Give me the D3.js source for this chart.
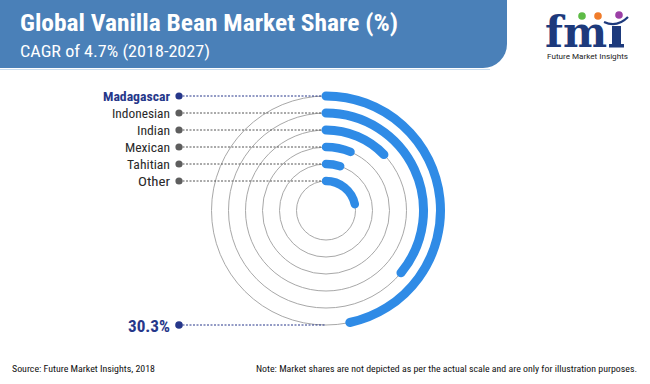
<!DOCTYPE html>
<html><head><meta charset="utf-8">
<script src="https://cdn.jsdelivr.net/npm/d3@7"></script>
<style>body{margin:0;background:#fff}svg{display:block}</style>
</head><body><svg id="c" width="650" height="384"></svg>
<script>
const categories = ["Madagascar","Indonesian","Indian","Mexican","Tahitian","Other"];
// estimated illustrative shares (only Madagascar labelled: 30.3%)
const shares = [30.3, 23.4, 8.3, 4.1, 3.2, 14.0];
const highlightLabel = "30.3%";

const svg = d3.select("#c");
const cx = 326, cy = 210.5;
const navy = "#26378a", blue = "#2f8be6", grey = "#5e5e5e";
const cond = "'Roboto Condensed','Liberation Sans Narrow',Roboto,sans-serif";

// header
svg.append("path").attr("fill","#4a80b8")
  .attr("d","M0,0H507V44A24,24 0 0 1 483,68H0Z");
svg.append("line").attr("x1",0).attr("x2",490).attr("y1",69.5).attr("y2",69.5)
  .attr("stroke","#c9dcee").attr("stroke-width",1);
svg.append("text").attr("x",20).attr("y",31).attr("fill","#fff")
  .attr("font-family",cond).attr("font-weight","bold").attr("font-size",23)
  .attr("textLength",378).attr("lengthAdjust","spacingAndGlyphs")
  .text("Global Vanilla Bean Market Share (%)");
svg.append("text").attr("x",20).attr("y",57).attr("fill","#fff")
  .attr("font-family",cond).attr("font-size",16.5)
  .attr("textLength",190).attr("lengthAdjust","spacingAndGlyphs")
  .text("CAGR of 4.7% (2018-2027)");

// logo
const lg = svg.append("g");
lg.append("text").attr("x",545).attr("y",47).attr("fill","#1d3a7c")
  .attr("font-family","'DejaVu Serif',serif").attr("font-weight","bold").attr("font-size",42)
  .attr("textLength",62).attr("lengthAdjust","spacingAndGlyphs").text("fm");
lg.append("rect").attr("x",612).attr("y",26).attr("width",9).attr("height",21).attr("fill","#1d3a7c");
lg.append("rect").attr("x",609).attr("y",44).attr("width",15).attr("height",3.5).attr("fill","#1d3a7c");
lg.append("path").attr("d","M604,22Q617,28 628,17").attr("fill","none").attr("stroke","#1d3a7c").attr("stroke-width",2.2);
[[582,16,"#5dbb46"],[598,16,"#f07c2a"],[619,15,"#9b3fa6"]].forEach(d=>
  lg.append("circle").attr("cx",d[0]).attr("cy",d[1]).attr("r",3.8).attr("fill",d[2]));
lg.append("text").attr("x",547).attr("y",59).attr("fill","#222")
  .attr("font-family","Roboto,sans-serif").attr("font-size",7.5)
  .attr("textLength",81).attr("lengthAdjust","spacingAndGlyphs").text("Future Market Insights");

// geometry
const rowY = d3.scalePoint().domain(categories).range([96,181]);
const radius = c => cy - rowY(c);
const ang = d3.scaleLinear().domain([0, 30.3]).range([0, 168*Math.PI/180]);
const labelX = 170, dotX = 179;

// grey circles
svg.append("g").selectAll("circle").data(categories).join("circle")
  .attr("cx",cx).attr("cy",cy).attr("r",d=>radius(d))
  .attr("fill","none").attr("stroke","#a8a8a8").attr("stroke-width",1);

// dotted leader lines
svg.append("g").selectAll("line").data(categories).join("line")
  .attr("x1",dotX).attr("x2",cx).attr("y1",d=>rowY(d)).attr("y2",d=>rowY(d))
  .attr("stroke",(d,i)=>i===0?navy:"#555").attr("stroke-width",1).attr("stroke-dasharray","2,1.5");
svg.append("line").attr("x1",dotX).attr("x2",cx).attr("y1",cy+radius(categories[0])).attr("y2",cy+radius(categories[0]))
  .attr("stroke",navy).attr("stroke-width",1).attr("stroke-dasharray","2,1.5");

// arcs
svg.append("g").selectAll("path").data(categories).join("path")
  .attr("d",(c,i)=>{const p=d3.path(); const r=radius(c);
    p.arc(cx,cy,r,-Math.PI/2,-Math.PI/2+ang(shares[i])); return p.toString();})
  .attr("fill","none").attr("stroke",blue).attr("stroke-linecap","round")
  .attr("stroke-width",(c,i)=>i<3?9:8.5);

// dots
svg.append("g").selectAll("circle").data(categories).join("circle")
  .attr("cx",dotX).attr("cy",d=>rowY(d)).attr("r",3.6)
  .attr("fill",(d,i)=>i===0?navy:grey);
svg.append("circle").attr("cx",dotX).attr("cy",cy+radius(categories[0])).attr("r",3.8).attr("fill",navy);

// labels
const labW = {"Madagascar":67,"Indonesian":58,"Indian":33,"Mexican":45,"Tahitian":43,"Other":32};
svg.append("g").selectAll("text").data(categories).join("text")
  .attr("x",labelX).attr("y",d=>rowY(d)+4.6).attr("text-anchor","end")
  .attr("font-family",cond).attr("font-size",13.5)
  .attr("font-weight",(d,i)=>i===0?"bold":"normal")
  .attr("fill",(d,i)=>i===0?navy:"#2a2a2a")
  .attr("textLength",d=>labW[d]).attr("lengthAdjust","spacingAndGlyphs")
  .text(d=>d);
svg.append("text").attr("x",labelX).attr("y",cy+radius(categories[0])+6.5).attr("text-anchor","end")
  .attr("font-family",cond).attr("font-weight","bold").attr("font-size",17).attr("fill",navy)
  .attr("textLength",42).attr("lengthAdjust","spacingAndGlyphs").text(highlightLabel);

// footer
svg.append("text").attr("x",12).attr("y",372).attr("font-family",cond).attr("font-size",9.5).attr("fill","#111")
  .attr("textLength",143).attr("lengthAdjust","spacingAndGlyphs").text("Source: Future Market Insights, 2018");
svg.append("text").attr("x",256).attr("y",372).attr("font-family",cond).attr("font-size",9.5).attr("fill","#111")
  .attr("textLength",381).attr("lengthAdjust","spacingAndGlyphs")
  .text("Note: Market shares are not depicted as per the actual scale and are only for illustration purposes.");
</script></body></html>
